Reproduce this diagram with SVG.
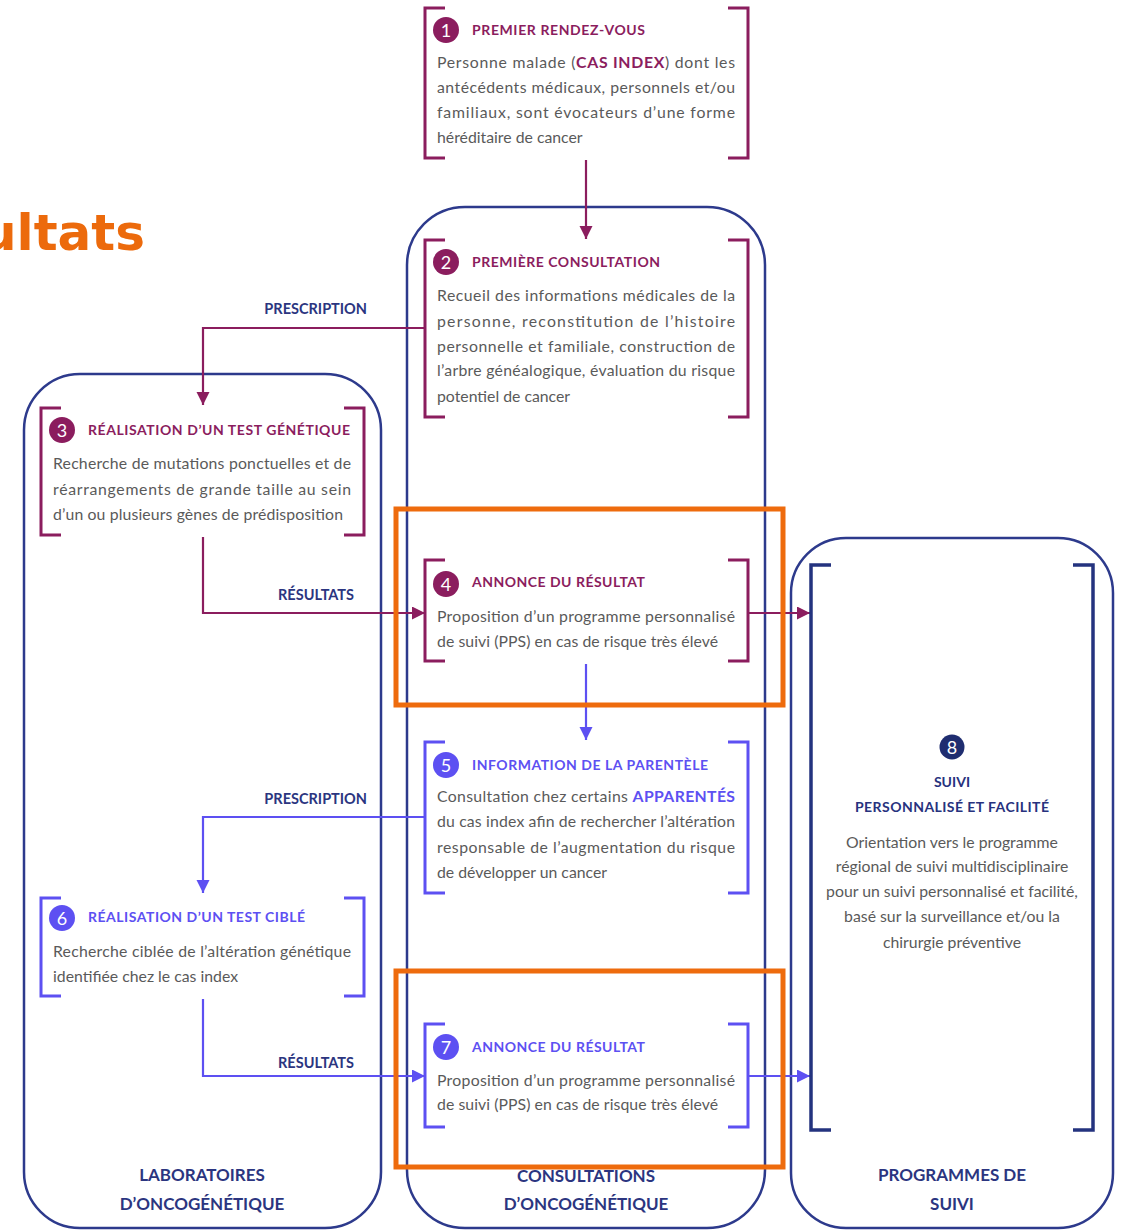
<svg xmlns="http://www.w3.org/2000/svg" width="1122" height="1230" viewBox="0 0 1122 1230">
<defs>
<style>
.body{font-family:Lato,"Open Sans","Liberation Sans",sans-serif;font-size:15.8px;fill:#5a5a5a}
.title{font-family:Lato,"Open Sans","Liberation Sans",sans-serif;font-size:14px;font-weight:bold}
.tp{fill:#8b1d5e}
.tb{fill:#5d50f2}
.tn{fill:#27327e}
.num{font-family:Lato,"Open Sans","Liberation Sans",sans-serif;font-size:18px;fill:#ffffff;text-anchor:middle}
.lbl{font-family:Lato,"Open Sans","Liberation Sans",sans-serif;font-size:14.5px;font-weight:bold;fill:#2b3580;text-anchor:end}
.foot{font-family:Lato,"Open Sans","Liberation Sans",sans-serif;font-size:17px;font-weight:bold;fill:#2b3580;text-anchor:middle}
.cont{fill:none;stroke:#2d3a8c;stroke-width:2.5}
.brp{fill:none;stroke:#8b1d5e;stroke-width:3}
.brb{fill:none;stroke:#5d50f2;stroke-width:3}
.brn{fill:none;stroke:#24337f;stroke-width:3.5}
.cp{fill:none;stroke:#8b1d5e;stroke-width:2.2}
.cb{fill:none;stroke:#5d50f2;stroke-width:2.2}
.orange{fill:none;stroke:#ee6b0d;stroke-width:5}
</style>
<marker id="ap" markerUnits="userSpaceOnUse" markerWidth="14" markerHeight="14" refX="13" refY="6.5" orient="auto"><path d="M0,0 L13,6.5 L0,13 z" fill="#8b1d5e"/></marker>
<marker id="ab" markerUnits="userSpaceOnUse" markerWidth="14" markerHeight="14" refX="13" refY="6.5" orient="auto"><path d="M0,0 L13,6.5 L0,13 z" fill="#5d50f2"/></marker>
</defs>
<rect width="1122" height="1230" fill="#ffffff"/>

<text x="145" y="250" text-anchor="end" font-family="DejaVu Sans, sans-serif" font-weight="bold" font-size="50" fill="#ec6a0c">ultats</text>

<g id="containers">
<rect id="lab" x="24" y="374" width="357" height="854" rx="56" class="cont"/>
<rect id="cons" x="407" y="207" width="358" height="1021" rx="58" class="cont"/>
<rect id="prog" x="791" y="538" width="322" height="690" rx="55" class="cont"/>
<text class="foot" x="202" y="1181">LABORATOIRES</text>
<text class="foot" x="202" y="1210">D’ONCOGÉNÉTIQUE</text>
<text class="foot" x="586" y="1182">CONSULTATIONS</text>
<text class="foot" x="586" y="1210">D’ONCOGÉNÉTIQUE</text>
<text class="foot" x="952" y="1181">PROGRAMMES DE</text>
<text class="foot" x="952" y="1210">SUIVI</text>
</g>

<g id="connectors">
<path class="cp" d="M586,160 V239" marker-end="url(#ap)"/>
<path class="cp" d="M425,328 H203 V405" marker-end="url(#ap)"/>
<path class="cp" d="M203,537 V613 H425" marker-end="url(#ap)"/>
<path class="cp" d="M748,613 H810" marker-end="url(#ap)"/>
<path class="cb" d="M586,664 V740" marker-end="url(#ab)"/>
<path class="cb" d="M425,817 H203 V893" marker-end="url(#ab)"/>
<path class="cb" d="M203,999 V1076 H425" marker-end="url(#ab)"/>
<path class="cb" d="M748,1076 H810" marker-end="url(#ab)"/>
<text class="lbl" x="367" y="314">PRESCRIPTION</text>
<text class="lbl" x="354" y="600">RÉSULTATS</text>
<text class="lbl" x="367" y="804">PRESCRIPTION</text>
<text class="lbl" x="354" y="1068">RÉSULTATS</text>
</g>

<g id="node1">
<path class="brp" d="M445,8 H425 V158 H445 M728,8 H748 V158 H728"/>
<circle cx="446" cy="30" r="13" fill="#8b1d5e"/>
<text class="num" x="446" y="36.5">1</text>
<text class="title tp" x="472" y="35" textLength="173">PREMIER RENDEZ-VOUS</text>
<text class="body" x="437" y="68" textLength="298">Personne malade (<tspan font-weight="bold" fill="#8b1d5e">CAS INDEX</tspan>) dont les</text>
<text class="body" x="437" y="93" textLength="298">antécédents médicaux, personnels et/ou</text>
<text class="body" x="437" y="118" textLength="298">familiaux, sont évocateurs d’une forme</text>
<text class="body" x="437" y="143">héréditaire de cancer</text>
</g>

<g id="node2">
<path class="brp" d="M445,240 H425 V417 H445 M728,240 H748 V417 H728"/>
<circle cx="446" cy="262" r="13" fill="#8b1d5e"/>
<text class="num" x="446" y="268.5">2</text>
<text class="title tp" x="472" y="267" textLength="188">PREMIÈRE CONSULTATION</text>
<text class="body" x="437" y="301" textLength="298">Recueil des informations médicales de la</text>
<text class="body" x="437" y="327" textLength="298">personne, reconstitution de l’histoire</text>
<text class="body" x="437" y="352" textLength="298">personnelle et familiale, construction de</text>
<text class="body" x="437" y="376" textLength="298">l’arbre généalogique, évaluation du risque</text>
<text class="body" x="437" y="402">potentiel de cancer</text>
</g>

<g id="node3">
<path class="brp" d="M61,408 H41 V535 H61 M344,408 H364 V535 H344"/>
<circle cx="62" cy="430" r="13" fill="#8b1d5e"/>
<text class="num" x="62" y="436.5">3</text>
<text class="title tp" x="88" y="435" textLength="262">RÉALISATION D’UN TEST GÉNÉTIQUE</text>
<text class="body" x="53" y="469" textLength="298">Recherche de mutations ponctuelles et de</text>
<text class="body" x="53" y="495" textLength="298">réarrangements de grande taille au sein</text>
<text class="body" x="53" y="520" textLength="290">d’un ou plusieurs gènes de prédisposition</text>
</g>

<g id="node4">
<path class="brp" d="M445,560 H425 V661 H445 M728,560 H748 V661 H728"/>
<circle cx="446" cy="584" r="13" fill="#8b1d5e"/>
<text class="num" x="446" y="590.5">4</text>
<text class="title tp" x="472" y="587" textLength="173">ANNONCE DU RÉSULTAT</text>
<text class="body" x="437" y="622" textLength="298">Proposition d’un programme personnalisé</text>
<text class="body" x="437" y="647" textLength="281">de suivi (PPS) en cas de risque très élevé</text>
</g>

<g id="node5">
<path class="brb" d="M445,742 H425 V893 H445 M728,742 H748 V893 H728"/>
<circle cx="446" cy="765" r="13" fill="#5d50f2"/>
<text class="num" x="446" y="771.5">5</text>
<text class="title tb" x="472" y="770" textLength="236">INFORMATION DE LA PARENTÈLE</text>
<text class="body" x="437" y="802" textLength="298">Consultation chez certains <tspan font-weight="bold" fill="#5d50f2">APPARENTÉS</tspan></text>
<text class="body" x="437" y="827" textLength="298">du cas index afin de rechercher l’altération</text>
<text class="body" x="437" y="853" textLength="298">responsable de l’augmentation du risque</text>
<text class="body" x="437" y="878">de développer un cancer</text>
</g>

<g id="node6">
<path class="brb" d="M61,898 H41 V996 H61 M344,898 H364 V996 H344"/>
<circle cx="62" cy="918" r="13" fill="#5d50f2"/>
<text class="num" x="62" y="924.5">6</text>
<text class="title tb" x="88" y="922" textLength="217">RÉALISATION D’UN TEST CIBLÉ</text>
<text class="body" x="53" y="957" textLength="298">Recherche ciblée de l’altération génétique</text>
<text class="body" x="53" y="982">identifiée chez le cas index</text>
</g>

<g id="node7">
<path class="brb" d="M445,1024 H425 V1127 H445 M728,1024 H748 V1127 H728"/>
<circle cx="446" cy="1047" r="13" fill="#5d50f2"/>
<text class="num" x="446" y="1053.5">7</text>
<text class="title tb" x="472" y="1052" textLength="173">ANNONCE DU RÉSULTAT</text>
<text class="body" x="437" y="1086" textLength="298">Proposition d’un programme personnalisé</text>
<text class="body" x="437" y="1110" textLength="281">de suivi (PPS) en cas de risque très élevé</text>
</g>

<g id="node8">
<path class="brn" d="M831,565 H811 V1130 H831 M1073,565 H1093 V1130 H1073"/>
<circle cx="952" cy="747" r="12.5" fill="#1f2d70"/>
<text class="num" x="952" y="753.5">8</text>
<text class="title tn" x="952" y="787" text-anchor="middle">SUIVI</text>
<text class="title tn" x="952" y="812" text-anchor="middle" textLength="194">PERSONNALISÉ ET FACILITÉ</text>
<text class="body" x="952" y="848" text-anchor="middle">Orientation vers le programme</text>
<text class="body" x="952" y="872" text-anchor="middle">régional de suivi multidisciplinaire</text>
<text class="body" x="952" y="897" text-anchor="middle">pour un suivi personnalisé et facilité,</text>
<text class="body" x="952" y="922" text-anchor="middle">basé sur la surveillance et/ou la</text>
<text class="body" x="952" y="948" text-anchor="middle">chirurgie préventive</text>
</g>

<g id="highlights">
<rect class="orange" x="396" y="509" width="387" height="196"/>
<rect class="orange" x="396" y="971" width="387" height="196"/>
</g>
</svg>
